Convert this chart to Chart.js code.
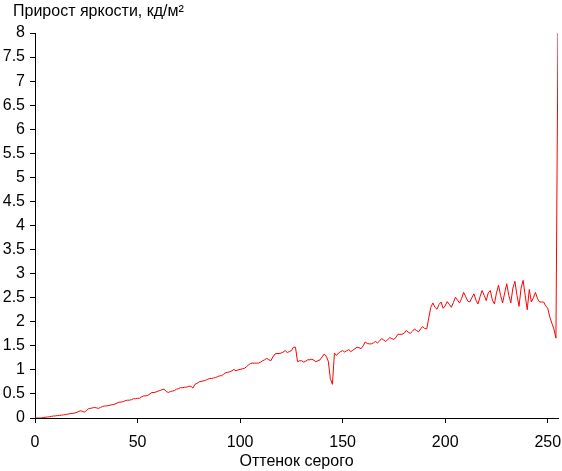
<!DOCTYPE html>
<html>
<head>
<meta charset="utf-8">
<script src="https://cdn.jsdelivr.net/npm/chart.js@4"></script>
<style>
html,body{margin:0;padding:0;background:#fff;}
#c{display:block;}
</style>
</head>
<body>
<canvas id="c" width="562" height="471"></canvas>
<script>
const chartTitle = "Прирост яркости, кд/м²";
const xAxisTitle = "Оттенок серого";

// Grey shade (0..255)
const shades = Array.from({length: 256}, (_, i) => i);

// Brightness increment, cd/m², per shade
const increments = [
  0, 0, 0, 0, 0.01, 0.015, 0.02, 0.025, 0.035, 0.04,
  0.045, 0.05, 0.055, 0.06, 0.065, 0.075, 0.08, 0.09, 0.095, 0.10,
  0.11, 0.13, 0.15, 0.14, 0.12, 0.15, 0.19, 0.20, 0.21, 0.22,
  0.21, 0.20, 0.22, 0.24, 0.25, 0.25, 0.26, 0.27, 0.28, 0.29,
  0.31, 0.33, 0.33, 0.34, 0.36, 0.37, 0.37, 0.38, 0.40, 0.40,
  0.41, 0.41, 0.44, 0.46, 0.46, 0.47, 0.50, 0.53, 0.53, 0.54,
  0.56, 0.57, 0.59, 0.60, 0.55, 0.53, 0.55, 0.56, 0.57, 0.60,
  0.61, 0.63, 0.63, 0.64, 0.64, 0.66, 0.66, 0.62, 0.70, 0.72,
  0.75, 0.76, 0.77, 0.78, 0.80, 0.82, 0.82, 0.83, 0.84, 0.86,
  0.875, 0.88, 0.91, 0.94, 0.95, 0.96, 0.98, 1.01, 0.98, 1.00,
  1.01, 1.02, 1.03, 1.06, 1.10, 1.13, 1.14, 1.14, 1.14, 1.14,
  1.16, 1.19, 1.21, 1.24, 1.21, 1.19, 1.27, 1.33, 1.34, 1.34,
  1.35, 1.37, 1.40, 1.36, 1.38, 1.40, 1.47, 1.47, 1.17, 1.19,
  1.19, 1.16, 1.18, 1.21, 1.21, 1.22, 1.20, 1.17, 1.19, 1.21,
  1.27, 1.33, 1.28, 1.18, 0.82, 0.70, 1.35, 1.30, 1.35, 1.38,
  1.40, 1.37, 1.40, 1.42, 1.38, 1.41, 1.44, 1.47, 1.46, 1.44,
  1.50, 1.58, 1.55, 1.54, 1.54, 1.56, 1.59, 1.56, 1.60, 1.65,
  1.62, 1.59, 1.63, 1.67, 1.65, 1.63, 1.68, 1.74, 1.74, 1.74,
  1.76, 1.82, 1.78, 1.76, 1.80, 1.85, 1.82, 1.79, 1.85, 1.90,
  1.86, 1.85, 2.08, 2.30, 2.39, 2.30, 2.26, 2.36, 2.41, 2.28,
  2.33, 2.42, 2.36, 2.30, 2.40, 2.51, 2.45, 2.39, 2.48, 2.61,
  2.52, 2.43, 2.41, 2.50, 2.58, 2.45, 2.37, 2.52, 2.65, 2.55,
  2.44, 2.60, 2.65, 2.45, 2.37, 2.60, 2.76, 2.55, 2.39, 2.60,
  2.79, 2.55, 2.39, 2.70, 2.84, 2.55, 2.32, 2.70, 2.86, 2.55,
  2.25, 2.67, 2.41, 2.50, 2.61, 2.48, 2.41, 2.41, 2.41, 2.33,
  2.28, 2.10, 1.97, 1.85, 1.66, 8.0
];

const xTickStep = 50;
const yTickStep = 0.5;

const FONT = "'Liberation Sans', Arial, sans-serif";

// shift the chart title to its place at the left
const titleShift = {
  id: 'titleShift',
  afterLayout(chart) {
    if (chart.titleBlock) {
      chart.titleBlock.left = 13;
    }
  }
};

new Chart(document.getElementById('c'), {
  type: 'line',
  data: {
    datasets: [{
      data: shades.map((s, i) => ({x: s, y: increments[i]})),
      borderColor: '#ff0000',
      borderWidth: 1,
      pointRadius: 0,
      tension: 0,
      fill: false
    }]
  },
  plugins: [titleShift],
  options: {
    responsive: false,
    animation: false,
    devicePixelRatio: 1,
    layout: {padding: {left: 0, right: 4, top: 0, bottom: 0}},
    plugins: {
      legend: {display: false},
      tooltip: {enabled: false},
      title: {
        display: true,
        text: chartTitle,
        align: 'start',
        color: '#000',
        font: {family: FONT, size: 16, weight: 'normal'},
        padding: {top: 2, bottom: 11.8}
      }
    },
    scales: {
      x: {
        type: 'linear',
        min: 0,
        max: 255,
        ticks: {
          stepSize: xTickStep,
          includeBounds: false,
          color: '#000',
          padding: 10,
          maxRotation: 0,
          font: {family: FONT, size: 16}
        },
        grid: {drawOnChartArea: false, drawTicks: true, tickLength: 5, color: '#000'},
        border: {display: true, color: '#000', width: 1},
        title: {
          display: true,
          text: xAxisTitle,
          color: '#000',
          font: {family: FONT, size: 16},
          padding: {top: 0, bottom: 0}
        },
        afterFit(scale) {
          scale.height = 53;
          scale.paddingLeft = 0;
          scale.paddingRight = 0;
        }
      },
      y: {
        type: 'linear',
        min: 0,
        max: 8,
        ticks: {
          stepSize: yTickStep,
          color: '#000',
          padding: 5,
          font: {family: FONT, size: 16},
          callback: (v) => String(v)
        },
        grid: {drawOnChartArea: false, drawTicks: true, tickLength: 5, color: '#000'},
        border: {display: true, color: '#000', width: 1},
        afterFit(scale) {
          scale.width = 35;
          scale.paddingTop = 0;
          scale.paddingBottom = 0;
        }
      }
    }
  }
});
</script>
</body>
</html>
